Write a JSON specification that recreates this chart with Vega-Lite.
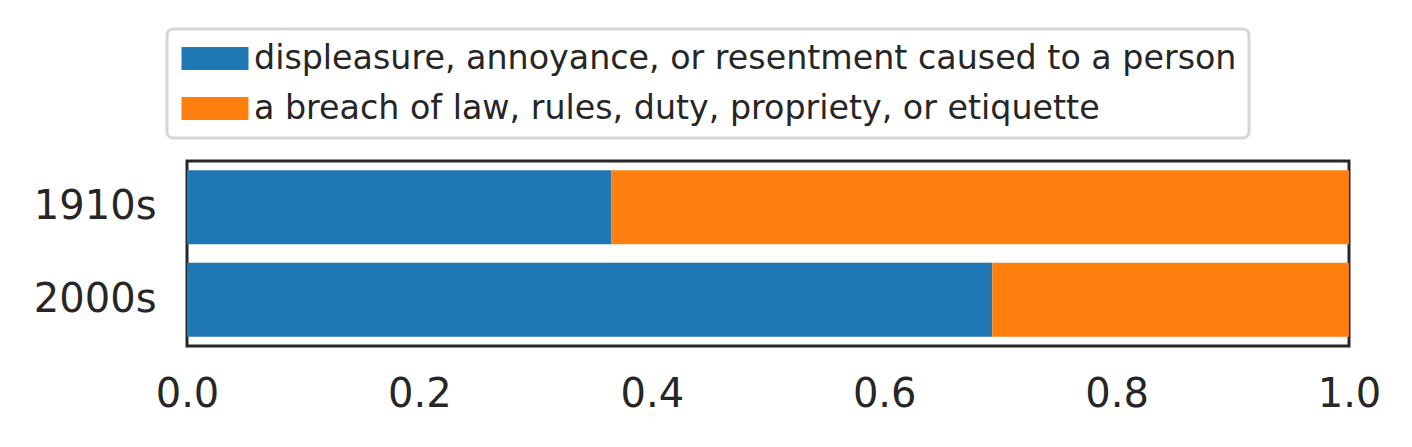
{
  "$schema": "https://vega.github.io/schema/vega-lite/v6.json",
  "width": 1162,
  "height": 185,
  "autosize": "none",
  "padding": {"left": 187, "top": 161, "right": 63, "bottom": 101},
  "background": "white",
  "data": {
    "values": [
      {"decade": "1910s", "sense": "displeasure, annoyance, or resentment caused to a person", "share": 0.365, "rank": 1},
      {"decade": "1910s", "sense": "a breach of law, rules, duty, propriety, or etiquette", "share": 0.635, "rank": 2},
      {"decade": "2000s", "sense": "displeasure, annoyance, or resentment caused to a person", "share": 0.693, "rank": 1},
      {"decade": "2000s", "sense": "a breach of law, rules, duty, propriety, or etiquette", "share": 0.307, "rank": 2}
    ]
  },
  "mark": {"type": "bar"},
  "encoding": {
    "y": {
      "field": "decade",
      "type": "nominal",
      "sort": ["1910s", "2000s"],
      "scale": {"paddingInner": 0.2, "paddingOuter": 0.1},
      "axis": {
        "title": null,
        "ticks": false,
        "tickSize": 0,
        "domain": false,
        "grid": false,
        "labelPadding": 31,
        "labelFont": "DejaVu Sans",
        "labelFontSize": 40,
        "labelColor": "#262626"
      }
    },
    "x": {
      "field": "share",
      "type": "quantitative",
      "stack": "zero",
      "scale": {"domain": [0, 1], "nice": false, "zero": true},
      "axis": {
        "title": null,
        "values": [0, 0.2, 0.4, 0.6, 0.8, 1.0],
        "format": ".1f",
        "ticks": false,
        "tickSize": 0,
        "domain": false,
        "grid": false,
        "labelFlush": false,
        "labelPadding": 28,
        "labelFont": "DejaVu Sans",
        "labelFontSize": 40,
        "labelColor": "#262626"
      }
    },
    "color": {
      "field": "sense",
      "type": "nominal",
      "sort": ["displeasure, annoyance, or resentment caused to a person", "a breach of law, rules, duty, propriety, or etiquette"],
      "scale": {
        "domain": ["displeasure, annoyance, or resentment caused to a person", "a breach of law, rules, duty, propriety, or etiquette"],
        "range": ["#1f77b4", "#ff7f0e"]
      },
      "legend": {
        "title": null,
        "orient": "none",
        "legendX": -20,
        "legendY": -132,
        "direction": "vertical",
        "symbolType": "M-2,-0.686H2V0.686H-2Z",
        "symbolSize": 1122,
        "symbolStrokeWidth": 0,
        "symbolOpacity": 1,
        "symbolOffset": 18.5,
        "labelFont": "DejaVu Sans",
        "labelFontSize": 33.3,
        "labelColor": "#262626",
        "labelOffset": 22,
        "labelLimit": 2000,
        "rowPadding": 16,
        "padding": 12.5,
        "fillColor": "white",
        "strokeColor": "#d6d6d6",
        "cornerRadius": 6,
        "encode": {"legend": {"update": {"strokeWidth": {"value": 3}}}}
      }
    },
    "order": {"field": "rank", "type": "quantitative"}
  },
  "config": {
    "view": {"stroke": "#262626", "strokeWidth": 3},
    "font": "DejaVu Sans"
  }
}
